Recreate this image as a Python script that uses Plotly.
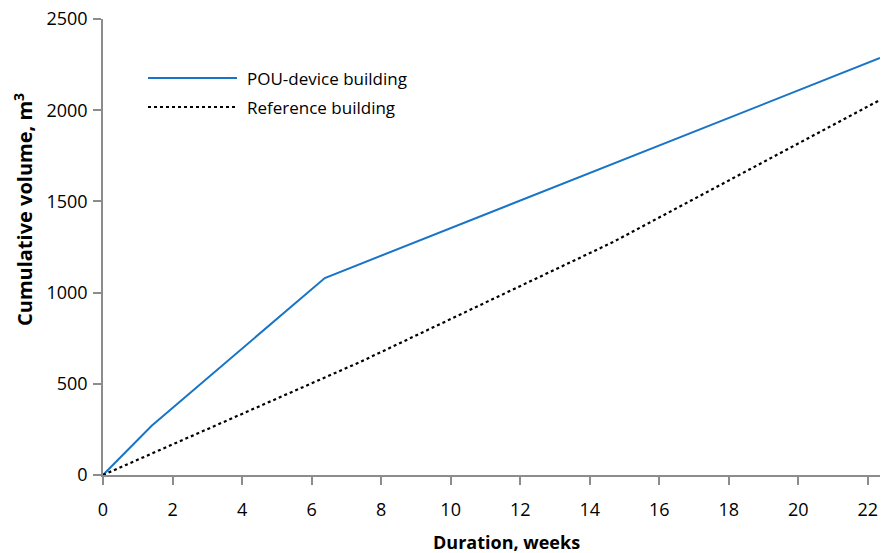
import plotly.graph_objects as go

# Data
pou_weeks = [0, 1.4, 6.38, 22.35]
pou_volume = [0, 270, 1080, 2286]
ref_weeks = [0, 7.39, 14.67, 22.35]
ref_volume = [0, 619, 1277, 2056]

x_ticks = [0, 2, 4, 6, 8, 10, 12, 14, 16, 18, 20, 22]
y_ticks = [0, 500, 1000, 1500, 2000, 2500]

FONT = "Open Sans"
BLUE = "#1874c6"

fig = go.Figure()
fig.add_trace(go.Scatter(x=pou_weeks, y=pou_volume, mode="lines",
                         name="POU-device building",
                         line=dict(color=BLUE, width=2)))
fig.add_trace(go.Scatter(x=ref_weeks, y=ref_volume, mode="lines",
                         name="Reference building",
                         line=dict(color="black", width=2.2, dash="dot")))

# manual legend
legend_items = [("POU-device building", BLUE, "solid", (475 - 78) / 456, 2),
                ("Reference building", "black", "dot", (475 - 107) / 456, 2.2)]
for text, color, dash, yp, w in legend_items:
    fig.add_shape(type="line", xref="paper", yref="paper",
                  x0=(148 - 103) / 777, x1=(237 - 103) / 777, y0=yp, y1=yp,
                  line=dict(color=color, width=w, dash=dash))
    fig.add_annotation(xref="paper", yref="paper", x=(245 - 103) / 777, y=yp,
                       text=text, showarrow=False, xanchor="left", yanchor="middle",
                       font=dict(family=FONT, size=17, color="black"))

# axis titles
fig.add_annotation(xref="paper", yref="paper", x=(506 - 103) / 777, y=-(542 - 475) / 456,
                   text="<b>Duration, weeks</b>", showarrow=False,
                   xanchor="center", yanchor="middle",
                   font=dict(family=FONT, size=18, color="black"))
fig.add_annotation(xref="paper", yref="paper", x=-(103 - 23) / 777, y=(475 - 210) / 456,
                   text="<b>Cumulative volume, m<sup>3</sup></b>", showarrow=False,
                   textangle=-90, xanchor="center", yanchor="middle",
                   font=dict(family=FONT, size=20, color="black"))

axis_common = dict(showline=True, linecolor="#8c8c8c", linewidth=1.5,
                   ticks="outside", tickcolor="#8c8c8c", ticklen=8, tickwidth=1.5,
                   showgrid=False, zeroline=False, automargin=False,
                   tickfont=dict(family=FONT, size=18, color="black"))

fig.update_layout(
    width=882, height=553,
    margin=dict(l=103, r=2, t=19, b=78),
    paper_bgcolor="white", plot_bgcolor="white",
    showlegend=False,
    xaxis=dict(range=[0, 22.35], tickvals=x_ticks, ticklabelstandoff=10,
               **axis_common),
    yaxis=dict(range=[0, 2500], tickvals=y_ticks, ticklabelstandoff=2,
               **axis_common),
)

fig.write_html("out.html", config={"displayModeBar": False},
               post_script="document.body.style.margin='0';document.body.style.overflow='hidden';")
